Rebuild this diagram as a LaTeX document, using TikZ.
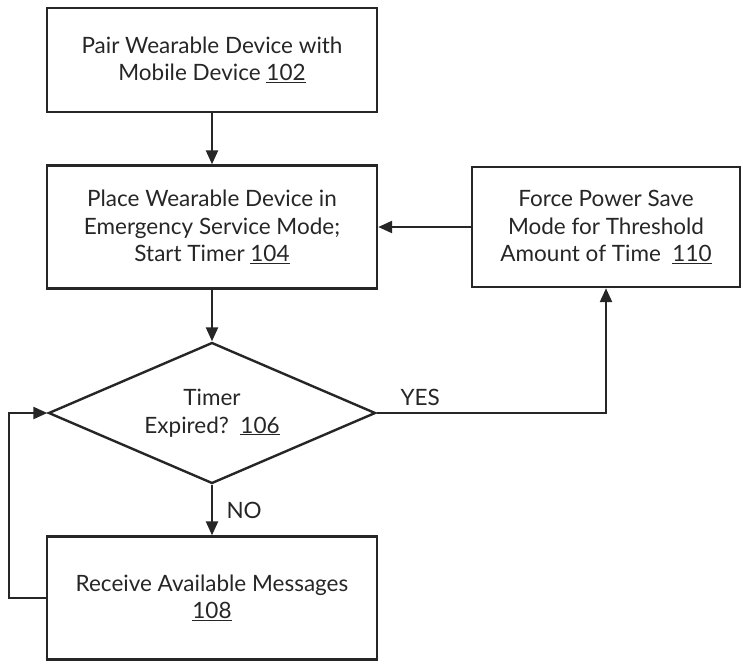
\documentclass[tikz,border=0pt]{standalone}
\usepackage{fontspec}
\setmainfont{Lato}
\usetikzlibrary{positioning, shapes.geometric}
\usetikzlibrary{arrows.meta}

\begin{document}
\begin{tikzpicture}[x=1pt,y=-1pt,
  flowline/.style={black!85,line width=2.4pt,-{Triangle[length=14pt,width=12pt]}},
  stepbox/.style={draw=black!85,line width=2.4pt,minimum width=330pt,inner sep=0pt,
    align=center,text=black!85,font=\fontsize{22.5}{27.5}\selectfont},
  decision/.style={diamond,draw=black!85,line width=2.4pt,aspect=2.3,inner sep=0pt,
    minimum width=327pt,minimum height=141pt,align=center,text=black!85,
    font=\fontsize{22.5}{27.5}\selectfont},
  branch/.style={text=black!85,font=\fontsize{22.5}{27.5}\selectfont}]
\useasboundingbox (0,0) rectangle (743,665);
% steps
\node[stepbox,minimum height=104pt] (pair) at (212,60)
  {Pair Wearable Device with\\Mobile Device \underline{102}};
\node[stepbox,minimum height=123pt] (place) at (212,227)
  {Place Wearable Device in\\Emergency Service Mode;\\Start Timer \underline{104}};
\node[stepbox,minimum width=268pt,minimum height=120pt] (force) at (606,227)
  {Force Power Save\\Mode for Threshold\\Amount of Time~~\underline{110}};
\node[decision] (expired) at (212,413) {Timer\\Expired?~~\underline{106}};
\node[stepbox,minimum height=123pt] (receive) at (212,598)
  {Receive Available Messages\\\underline{108}};
% connectors
\draw[flowline] (pair.south) -- (place.north);
\draw[flowline] (place.south) -- (expired.north);
\draw[flowline] (force.west) -- (place.east);
\draw[flowline] (expired.east) -| node[branch,pos=0.095,above=3pt] {YES} (force.south);
\draw[flowline] (expired.south) -- node[branch,right=10pt] {NO} (receive.north);
\draw[flowline] (receive.west) -- ++(-37,0) |- (expired.west);
\end{tikzpicture}
\end{document}
